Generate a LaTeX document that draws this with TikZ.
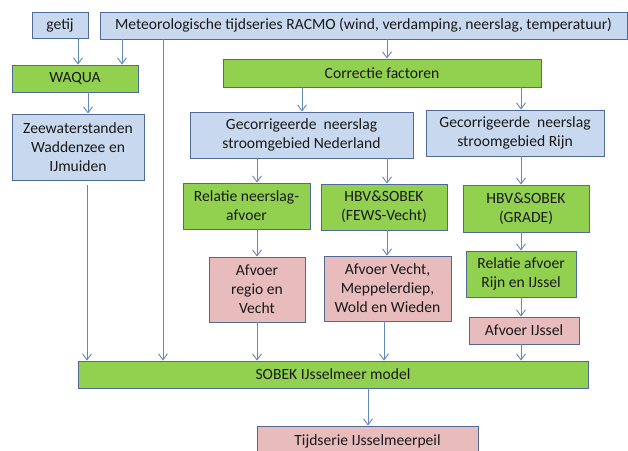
\documentclass[tikz,border=0pt]{standalone}
\usepackage{fontspec}
\setmainfont{Carlito}
\usetikzlibrary{arrows.meta}

\definecolor{boxline}{RGB}{80,106,150}
\definecolor{bluefill}{RGB}{200,216,238}
\definecolor{greenfill}{RGB}{146,208,80}
\definecolor{pinkfill}{RGB}{232,188,188}
\definecolor{arrowcol}{RGB}{100,136,190}

\begin{document}
\begin{tikzpicture}[x=1pt,y=-1pt,
  box/.style={draw=boxline,line width=0.9pt,rectangle,inner sep=0pt,align=center,
    text=black!90,font=\fontsize{15.6}{19}\selectfont},
  data/.style={box,fill=bluefill},
  model/.style={box,fill=greenfill},
  result/.style={box,fill=pinkfill},
  arr/.style={draw=arrowcol,line width=0.9pt,-{Straight Barb[length=6pt,width=9pt]}}]
  \useasboundingbox (0,0) rectangle (628,450);
  \clip (0,0) rectangle (628,450);
  \node[data,minimum width=56pt,minimum height=26pt] (getij) at (60,25) {getij};
  \node[data,minimum width=527pt,minimum height=27pt] (meteo) at (363.5,25.5)
    {Meteorologische tijdseries RACMO (wind, verdamping, neerslag, temperatuur)};
  \node[model,minimum width=126pt,minimum height=27pt] (waqua) at (75,78.5) {WAQUA};
  \node[data,minimum width=132pt,minimum height=66pt] (zee) at (78,147)
    {Zeewaterstanden\\Waddenzee en\\IJmuiden};
  \node[model,minimum width=318pt,minimum height=28pt] (corr) at (382,73) {Correctie factoren};
  \node[data,minimum width=223pt,minimum height=46pt] (gecNL) at (301.5,135)
    {Gecorrigeerde\ \ neerslag\\stroomgebied Nederland};
  \node[data,minimum width=178pt,minimum height=46pt] (gecRijn) at (515,133)
    {Gecorrigeerde\ \ neerslag\\stroomgebied Rijn};
  \node[model,minimum width=127pt,minimum height=46pt] (relNA) at (246.5,206)
    {Relatie neerslag-\\afvoer};
  \node[model,minimum width=126pt,minimum height=46pt] (hbvF) at (384,207)
    {HBV\&SOBEK\\(FEWS-Vecht)};
  \node[model,minimum width=126pt,minimum height=47pt] (hbvG) at (526,208.5)
    {HBV\&SOBEK\\(GRADE)};
  \node[result,minimum width=96pt,minimum height=65pt] (afvRV) at (257,289.5)
    {Afvoer\\regio en\\Vecht};
  \node[result,minimum width=127pt,minimum height=65pt] (afvV) at (387.5,288.5)
    {Afvoer Vecht,\\Meppelerdiep,\\Wold en Wieden};
  \node[model,minimum width=110pt,minimum height=46pt] (relRI) at (521,274)
    {Relatie afvoer\\Rijn en IJssel};
  \node[result,minimum width=110pt,minimum height=27pt] (afvIJ) at (524,330.5) {Afvoer IJssel};
  \node[model,minimum width=510pt,minimum height=27pt] (sobek) at (333,374.5)
    {SOBEK IJsselmeer model};
  \node[result,minimum width=221pt,minimum height=30pt] (tijd) at (367.5,441)
    {Tijdserie IJsselmeerpeil};

  \draw[arr] (78,0 |- getij.south) -- (78,0 |- waqua.north);
  \draw[arr] (122,0 |- meteo.south) -- (122,0 |- waqua.north);
  \draw[arr] (88,0 |- waqua.south) -- (88,0 |- zee.north);
  \draw[arr] (87,0 |- zee.south) ++(0,5) -- (87,0 |- sobek.north);
  \draw[arr] (163,0 |- meteo.south) -- (163,0 |- sobek.north);
  \draw[arr] (387,0 |- meteo.south) -- (387,0 |- corr.north);
  \draw[arr] (302,0 |- corr.south) -- (302,0 |- gecNL.north);
  \draw[arr] (521,0 |- corr.south) -- (521,0 |- gecRijn.north);
  \draw[arr] (257,0 |- gecNL.south) -- (257,0 |- relNA.north);
  \draw[arr] (387,0 |- gecNL.south) -- (387,0 |- hbvF.north);
  \draw[arr] (521,0 |- gecRijn.south) -- (521,0 |- hbvG.north);
  \draw[arr] (257,0 |- relNA.south) -- (257,0 |- afvRV.north);
  \draw[arr] (387,0 |- hbvF.south) -- (387,0 |- afvV.north);
  \draw[arr] (521,0 |- hbvG.south) -- (521,0 |- relRI.north);
  \draw[arr] (521,0 |- relRI.south) -- (521,0 |- afvIJ.north);
  \draw[arr] (257,0 |- afvRV.south) -- (257,0 |- sobek.north);
  \draw[arr] (384,0 |- afvV.south) -- (384,0 |- sobek.north);
  \draw[arr] (521,0 |- afvIJ.south) -- (521,0 |- sobek.north);
  \draw[arr] (368,0 |- sobek.south) -- (368,0 |- tijd.north);
\end{tikzpicture}
\end{document}
